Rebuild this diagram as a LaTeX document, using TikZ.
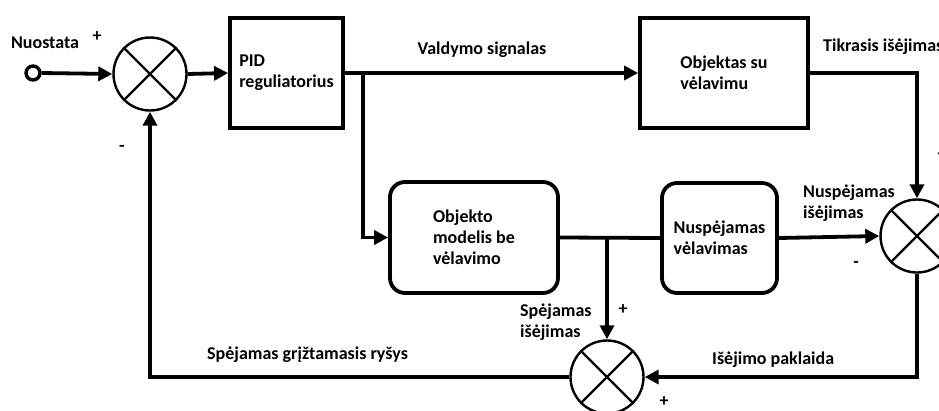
\documentclass[tikz,border=0pt]{standalone}
\usepackage{fontspec}
\setmainfont{Carlito}
\usetikzlibrary{arrows.meta,calc}
\tikzset{
  blk/.style={draw, line width=3.8pt, align=left, inner sep=0pt},
  rblk/.style={blk, rounded corners=15pt},
  sumj/.style={draw, circle, line width=2.4pt, minimum size=73pt, inner sep=0pt},
  conn/.style={line width=3.8pt},
  arr/.style={conn, -{Triangle[length=14pt,width=14pt]}},
  lbl/.style={inner sep=0pt, align=left, font=\fontsize{18}{21}\selectfont\bfseries},
}
\newcommand{\crossit}[1]{\draw[line width=2.4pt] (#1.north west) -- (#1.south east) (#1.north east) -- (#1.south west);}
\begin{document}
\begin{tikzpicture}[x=1pt,y=-1pt,font=\fontsize{18}{21}\selectfont\bfseries]
\useasboundingbox (0,0) rectangle (939,410);
\clip (0,0) rectangle (939,410);
% nodes
\node[draw, circle, line width=3.4pt, minimum size=14pt, inner sep=0pt] (in) at (33,73) {};
\node[sumj] (s1) at (150,74) {};
\node[blk, minimum width=113pt, minimum height=110pt] (pid) at (286.5,73) {PID\\reguliatorius};
\node[blk, minimum width=168pt, minimum height=110pt] (obj) at (724,73) {Objektas su\\vėlavimu};
\node[rblk, minimum width=168pt, minimum height=111pt] (model) at (474,237.5) {Objekto\\modelis be\\vėlavimo};
\node[rblk, minimum width=115pt, minimum height=110pt] (delay) at (719.5,238) {Nuspėjamas\\vėlavimas};
\node[sumj] (s2) at (917,236) {};
\node[sumj] (s3) at (607,377) {};
\crossit{s1}
\crossit{s2}
\crossit{s3}
\coordinate (br) at (363,73);
\coordinate (br2) at (607,237.5);
% connectors
\draw[arr] (in.east) -- (s1.west);
\draw[arr] (s1.east) -- (pid.west);
\draw[arr] (pid.east) -- (obj.west);
\draw[arr] (br) |- (model.west);
\draw[arr] (obj.east) -| (s2.north);
\draw[conn] (model.east) -- (delay.west);
\draw[arr] (br2) -- (s3.north);
\draw[arr] (delay.east) -- (s2.west);
\draw[arr] (s2.south) |- (s3.east);
\draw[arr] (s3.west) -| (s1.south);
% labels
\node[lbl] (tNuo) at (45,43) {Nuostata};
\node[lbl] (p1) at (97,37) {+};
\node[lbl] (m1) at (122,148) {-};
\node[lbl] (tVal) at (482,50) {Valdymo signalas};
\node[lbl, anchor=west] (tTik) at (823,47) {Tikrasis išėjimas};
\node[lbl] (p2) at (942,155) {+};
\node[lbl, anchor=west] (tNis) at (803,203) {Nuspėjamas\\išėjimas};
\node[lbl] (m2) at (856,264) {-};
\node[lbl, anchor=west] (tSis) at (520,322) {Spėjamas\\išėjimas};
\node[lbl] (p3) at (623,310) {+};
\node[lbl, anchor=west] (tIsp) at (712,360) {Išėjimo paklaida};
\node[lbl] (p4) at (664,402) {+};
\node[lbl, anchor=west] (tSgr) at (207,355) {Spėjamas grįžtamasis ryšys};
\end{tikzpicture}
\end{document}
